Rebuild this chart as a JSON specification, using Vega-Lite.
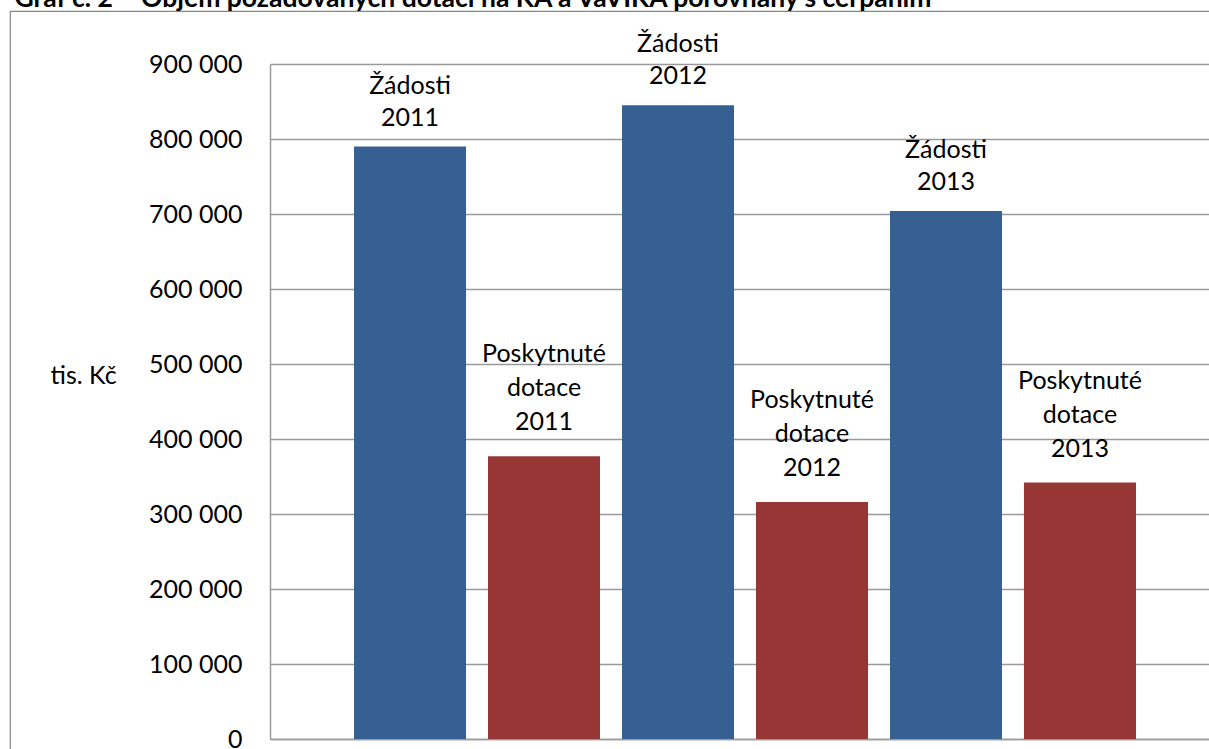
{
  "$schema": "https://vega.github.io/schema/vega-lite/v6.json",
  "autosize": {"type": "none"},
  "padding": {"left": 10, "top": 11, "right": 0, "bottom": 0},
  "width": 1210,
  "height": 760,
  "background": "white",
  "data": {
    "values": [
      {"id": "z2011", "typ": "Žádosti", "label": "Žádosti\n2011", "value": 790000},
      {"id": "p2011", "typ": "Poskytnuté dotace", "label": "Poskytnuté\ndotace\n2011", "value": 377000},
      {"id": "z2012", "typ": "Žádosti", "label": "Žádosti\n2012", "value": 845000},
      {"id": "p2012", "typ": "Poskytnuté dotace", "label": "Poskytnuté\ndotace\n2012", "value": 316000},
      {"id": "z2013", "typ": "Žádosti", "label": "Žádosti\n2013", "value": 704000},
      {"id": "p2013", "typ": "Poskytnuté dotace", "label": "Poskytnuté\ndotace\n2013", "value": 342000}
    ]
  },
  "encoding": {
    "x": {
      "field": "id",
      "type": "nominal",
      "sort": null,
      "scale": {"range": [260, 1210], "paddingInner": 0.164, "paddingOuter": 0.627},
      "axis": {
        "orient": "bottom",
        "offset": -32,
        "labels": false,
        "ticks": false,
        "grid": false,
        "domainColor": "#9a9a9a",
        "domainWidth": 1.5,
        "title": "Graf č. 2 – Objem požadovaných dotací na KA a VaVIKA porovnaný s čerpáním",
        "titleX": 4,
        "titleY": -733,
        "titleAlign": "left",
        "titleAnchor": "start",
        "titleBaseline": "alphabetic",
        "titleFont": "Lato",
        "titleFontSize": 26.5,
        "titleFontWeight": "bold",
        "titleColor": "#000000"
      }
    },
    "y": {
      "field": "value",
      "type": "quantitative",
      "scale": {"domain": [0, 900000], "range": [728, 53], "nice": false, "zero": true},
      "axis": {
        "orient": "left",
        "offset": -260,
        "values": [0, 100000, 200000, 300000, 400000, 500000, 600000, 700000, 800000, 900000],
        "labelExpr": "replace(format(datum.value, ',d'), /,/g, ' ')",
        "ticks": false,
        "tickSize": 0,
        "labelPadding": 28,
        "labelFont": "Lato",
        "labelFontSize": 25,
        "labelColor": "#000000",
        "grid": true,
        "gridColor": "#9a9a9a",
        "gridWidth": 1.5,
        "domainColor": "#9a9a9a",
        "domainWidth": 1.5,
        "title": "tis. Kč",
        "titleAngle": 0,
        "titleAlign": "left",
        "titleBaseline": "middle",
        "titleX": -220,
        "titleY": 364,
        "titleFont": "Lato",
        "titleFontSize": 25,
        "titleFontWeight": "normal",
        "titleColor": "#000000"
      }
    }
  },
  "layer": [
    {
      "mark": {"type": "bar"},
      "encoding": {
        "color": {
          "field": "typ",
          "type": "nominal",
          "scale": {"domain": ["Žádosti", "Poskytnuté dotace"], "range": ["#376092", "#963735"]},
          "legend": null
        }
      }
    },
    {
      "transform": [{"filter": "datum.typ === 'Žádosti'"}],
      "mark": {
        "type": "text",
        "baseline": "alphabetic",
        "align": "center",
        "dy": -53,
        "lineBreak": "\n",
        "lineHeight": 32,
        "font": "Lato",
        "fontSize": 25,
        "color": "#000000"
      },
      "encoding": {
        "text": {"field": "label", "type": "nominal"}
      }
    },
    {
      "transform": [{"filter": "datum.typ !== 'Žádosti'"}],
      "mark": {
        "type": "text",
        "baseline": "alphabetic",
        "align": "center",
        "dy": -94,
        "lineBreak": "\n",
        "lineHeight": 34,
        "font": "Lato",
        "fontSize": 25,
        "color": "#000000"
      },
      "encoding": {
        "text": {"field": "label", "type": "nominal"}
      }
    }
  ],
  "config": {
    "view": {"stroke": "#868686", "strokeWidth": 1.2},
    "axis": {"labelFlush": false, "labelOverlap": false}
  }
}
